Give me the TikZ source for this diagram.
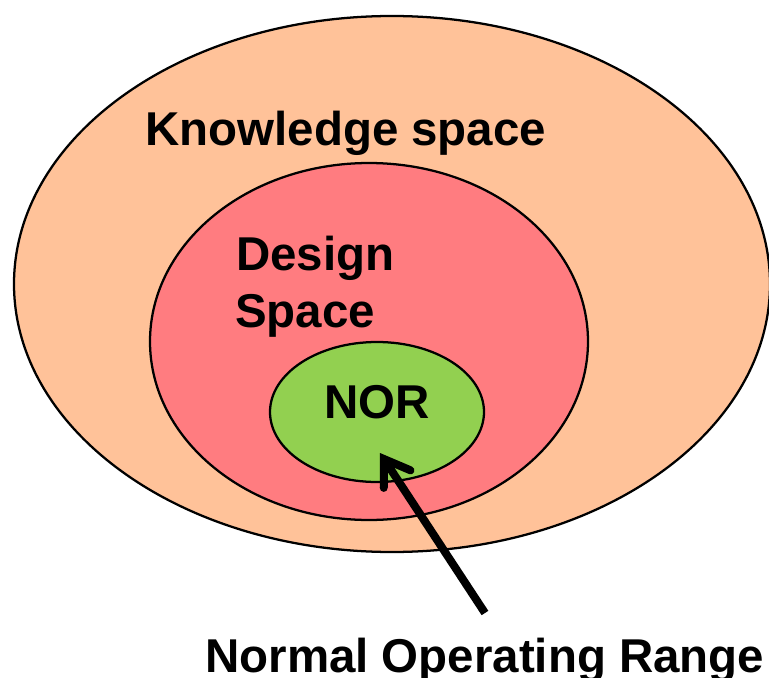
\documentclass[tikz,border=0pt]{standalone}
\usepackage{fontspec}
\setmainfont{Liberation Sans}
\usetikzlibrary{shapes.geometric,arrows.meta}
\definecolor{peach}{HTML}{FFC299}
\definecolor{rosered}{HTML}{FF7C80}
\definecolor{norgreen}{HTML}{92D050}
\begin{document}
\begin{tikzpicture}[x=0.75pt,y=-0.75pt,
  region/.style={ellipse,draw=black,line width=1.7pt,inner sep=0pt},
  lbl/.style={font=\fontsize{35.6}{42.75}\selectfont\bfseries,inner sep=0pt,anchor=base west}]
\useasboundingbox (0,0) rectangle (769,678);
\node[region,fill=peach,minimum width=567pt,minimum height=402pt] (know) at (392,284) {};
\node[region,fill=rosered,minimum width=328.5pt,minimum height=267.75pt] (design) at (369,341.5) {};
\node[region,fill=norgreen,minimum width=160.5pt,minimum height=105pt] (nor) at (377,412) {};
\node[lbl] (knowlbl) at (145,145) {Knowledge space};
\node[lbl] (deslbl1) at (236,270) {Design};
\node[lbl] (deslbl2) at (235,327) {Space};
\node[lbl] (norlbl) at (324,418) {NOR};
\node[lbl] (rangelbl) at (205,672) {Normal Operating Range};
\coordinate (tail) at (485,613);
\coordinate (tip) at (380,453);
\draw[line width=6pt,-{Straight Barb[length=18pt,width=24pt,line cap=round]}] (tail) -- (tip);
\end{tikzpicture}
\end{document}
